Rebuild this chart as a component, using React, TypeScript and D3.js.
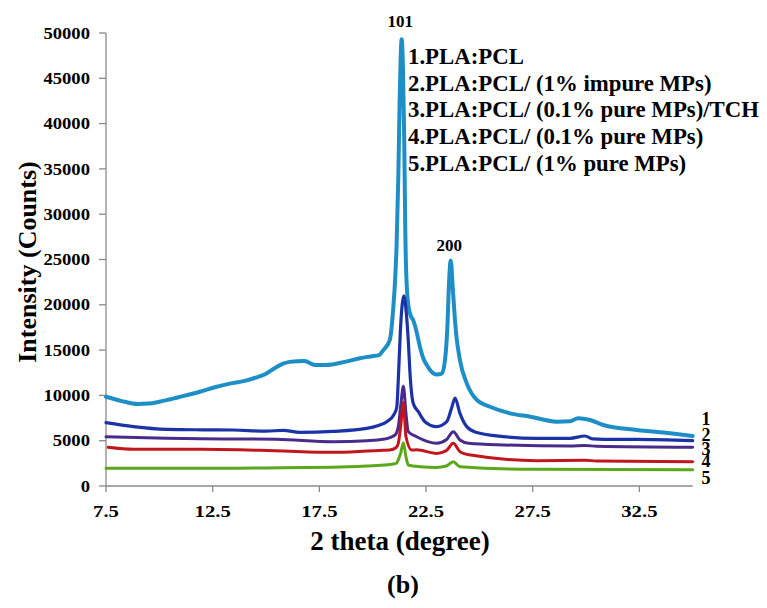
import React from "react";
import * as d3 from "d3";

// XRD patterns: [2θ (degree), intensity (counts)]
const plaPcl: [number, number][] = [
  [7.5, 9850], [8.2, 9400], [9.0, 9050], [9.5, 9100], [10.0, 9300], [10.9, 9800],
  [11.9, 10400], [12.6, 10900], [13.3, 11300], [14.0, 11600], [14.5, 11950], [15.0, 12400],
  [15.4, 13000], [15.8, 13500], [16.1, 13700], [16.8, 13800], [17.3, 13350], [17.8, 13350],
  [18.7, 13700], [19.4, 14100], [19.9, 14300], [20.3, 14450], [20.5, 15000], [20.8, 16100],
  [20.97, 19800], [21.05, 22700], [21.12, 26500], [21.2, 34000], [21.26, 42000], [21.36, 49300],
  [21.42, 46000], [21.48, 38000], [21.53, 28000], [21.58, 23000], [21.68, 19800], [21.8, 18700],
  [21.9, 18300], [22.06, 17000], [22.2, 15500], [22.37, 14100], [22.55, 13300], [22.69, 12800],
  [23.0, 12300], [23.24, 12400], [23.39, 13900], [23.5, 17500], [23.58, 22500], [23.66, 24900],
  [23.75, 22000], [23.85, 18500], [23.91, 16850], [24.09, 13900], [24.41, 11330], [24.88, 9500],
  [25.5, 8750], [26.44, 8020], [27.38, 7650], [28.63, 7100], [29.25, 7150], [29.63, 7470],
  [30.19, 7280], [30.81, 6730], [32.38, 6180], [33.94, 5820], [35.0, 5520],
];

const plaPclImpure1: [number, number][] = [
  [7.5, 6990], [8.78, 6550], [10.35, 6250], [12.0, 6200], [13.45, 6180], [15.0, 6050],
  [15.81, 6150], [16.59, 5920], [18.14, 6030], [19.72, 6360], [20.3, 6700], [20.66, 7100],
  [21.0, 7900], [21.13, 8700], [21.2, 11700], [21.3, 17200], [21.46, 21000], [21.58, 19000],
  [21.67, 16000], [21.75, 12400], [21.9, 9130], [22.14, 8200], [22.45, 7100], [23.0, 6550],
  [23.47, 7100], [23.7, 8600], [23.86, 9700], [24.09, 8020], [24.41, 6550], [24.88, 5900],
  [26.12, 5450], [27.69, 5260], [29.25, 5260], [29.95, 5520], [30.3, 5200], [30.81, 5150],
  [32.38, 5150], [35.0, 5000],
];

const plaPclPure01Tch: [number, number][] = [
  [7.5, 5440], [10.35, 5260], [13.0, 5200], [15.5, 5150], [18.14, 4890], [19.72, 5000],
  [20.5, 5150], [21.05, 5630], [21.2, 6550], [21.31, 8750], [21.44, 11000], [21.56, 8020],
  [21.67, 6000], [22.06, 5440], [23.0, 4710], [23.45, 5100], [23.78, 6000], [24.09, 5080],
  [24.5, 4710], [26.12, 4530], [29.25, 4410], [29.95, 4480], [30.5, 4380], [35.0, 4270],
];

const plaPclPure01: [number, number][] = [
  [7.6, 4270], [8.78, 4050], [12.0, 4050], [15.4, 3900], [18.14, 3720], [19.72, 3860],
  [20.5, 3950], [20.8, 3980], [21.1, 4250], [21.2, 4700], [21.31, 6550], [21.44, 9200],
  [21.56, 5440], [21.83, 3970], [22.06, 3990], [23.0, 3600], [23.45, 3900], [23.78, 4710],
  [24.09, 3790], [24.6, 3420], [27.69, 2800], [29.95, 2850], [30.5, 2750], [35.0, 2680],
];

const plaPclPure1: [number, number][] = [
  [7.5, 1950], [12.0, 1950], [15.0, 2000], [18.14, 2060], [19.72, 2200], [20.7, 2350],
  [21.1, 2500], [21.22, 3000], [21.31, 3600], [21.44, 4780], [21.56, 3230], [21.67, 2320],
  [22.22, 2130], [23.0, 2050], [23.45, 2200], [23.78, 2680], [24.09, 2130], [27.69, 1840],
  [35.0, 1800],
];

const seriesData = [plaPcl, plaPclImpure1, plaPclPure01Tch, plaPclPure01, plaPclPure1];
const seriesColors = ["#1d8ec6", "#1b33a6", "#4a2a8a", "#c1161d", "#5ba81c"];
const seriesWidths = [4, 3.2, 3, 3, 3];

const legendLabels = [
  "1.PLA:PCL",
  "2.PLA:PCL/ (1% impure MPs)",
  "3.PLA:PCL/ (0.1% pure MPs)/TCH",
  "4.PLA:PCL/ (0.1% pure MPs)",
  "5.PLA:PCL/ (1% pure MPs)",
];
const curveNumbers = ["1", "2", "3", "4", "5"];
const curveNumberY = [425, 440.5, 455, 467, 484];

const xTicks = [7.5, 12.5, 17.5, 22.5, 27.5, 32.5];
const yTicks = [0, 5000, 10000, 15000, 20000, 25000, 30000, 35000, 40000, 45000, 50000];

// Reflection labels: [2θ, counts at peak, label]
const peakLabels: [number, number, string][] = [
  [21.36, 49300, "101"],
  [23.66, 24900, "200"],
];

const W = 767;
const H = 608;
const FONT = "'Liberation Serif', 'Times New Roman', serif";

export default function App() {
  const x = d3.scaleLinear().domain([7.5, 35]).range([106, 692.7]);
  const y = d3.scaleLinear().domain([0, 50000]).range([486, 33]);
  const line = d3
    .line<[number, number]>()
    .x((d) => x(d[0]))
    .y((d) => y(d[1]))
    .curve(d3.curveMonotoneX);

  const axisColor = "#8a8a8a";

  return (
    <svg
      width={W}
      height={H}
      viewBox={`0 0 ${W} ${H}`}
      style={{ position: "absolute", left: 0, top: 0, background: "#fff" }}
      fontFamily={FONT}
      fontWeight="bold"
    >
      <rect width={W} height={H} fill="#fff" />

      {/* axes */}
      <line x1={x(7.5)} x2={x(7.5)} y1={y(50000)} y2={y(0)} stroke={axisColor} strokeWidth={1.3} />
      <line x1={x(7.5)} x2={x(35)} y1={y(0)} y2={y(0)} stroke={axisColor} strokeWidth={1.3} />
      {yTicks.map((t) => (
        <g key={`y${t}`}>
          <line x1={x(7.5) - 7} x2={x(7.5)} y1={y(t)} y2={y(t)} stroke={axisColor} strokeWidth={1.3} />
          <text
            transform={`translate(${x(7.5) - 16},${y(t)}) scale(1.13,1)`}
            textAnchor="end"
            dominantBaseline="central"
            fontSize={16.5}
            fill="#000"
          >
            {t}
          </text>
        </g>
      ))}
      {xTicks.map((t) => (
        <g key={`x${t}`}>
          <line x1={x(t)} x2={x(t)} y1={y(0)} y2={y(0) + 6} stroke={axisColor} strokeWidth={1.3} />
          <text
            transform={`translate(${x(t)},${517}) scale(1.22,1)`}
            textAnchor="middle"
            fontSize={17}
            fill="#000"
          >
            {t.toFixed(1)}
          </text>
        </g>
      ))}

      {/* axis titles */}
      <text x={400} y={550} textAnchor="middle" fontSize={27} fill="#000">
        2 theta (degree)
      </text>
      <text
        transform={`translate(36,262) rotate(-90)`}
        textAnchor="middle"
        fontSize={26}
        fill="#000"
      >
        Intensity (Counts)
      </text>
      <text x={403} y={593} textAnchor="middle" fontSize={26} fill="#000">
        (b)
      </text>

      {/* diffraction patterns */}
      {seriesData.map((s, i) => (
        <path
          key={i}
          d={line(s) ?? ""}
          fill="none"
          stroke={seriesColors[i]}
          strokeWidth={seriesWidths[i]}
          strokeLinejoin="round"
          strokeLinecap="round"
        />
      ))}

      {/* reflection indices */}
      {peakLabels.map(([px, py, label]) => (
        <text
          key={label}
          x={x(px) - 1.5}
          y={y(py) - (label === "101" ? 12 : 9)}
          textAnchor="middle"
          fontSize={17}
          fill="#000"
        >
          {label}
        </text>
      ))}

      {/* legend */}
      {legendLabels.map((l, i) => (
        <text key={l} x={408} y={64 + i * 26.7} fontSize={22.8} fill="#000">
          {l}
        </text>
      ))}

      {/* curve numbers at right end */}
      {curveNumbers.map((n, i) => (
        <text key={n} x={706} y={curveNumberY[i]} textAnchor="middle" fontSize={18} fill="#000">
          {n}
        </text>
      ))}
    </svg>
  );
}
